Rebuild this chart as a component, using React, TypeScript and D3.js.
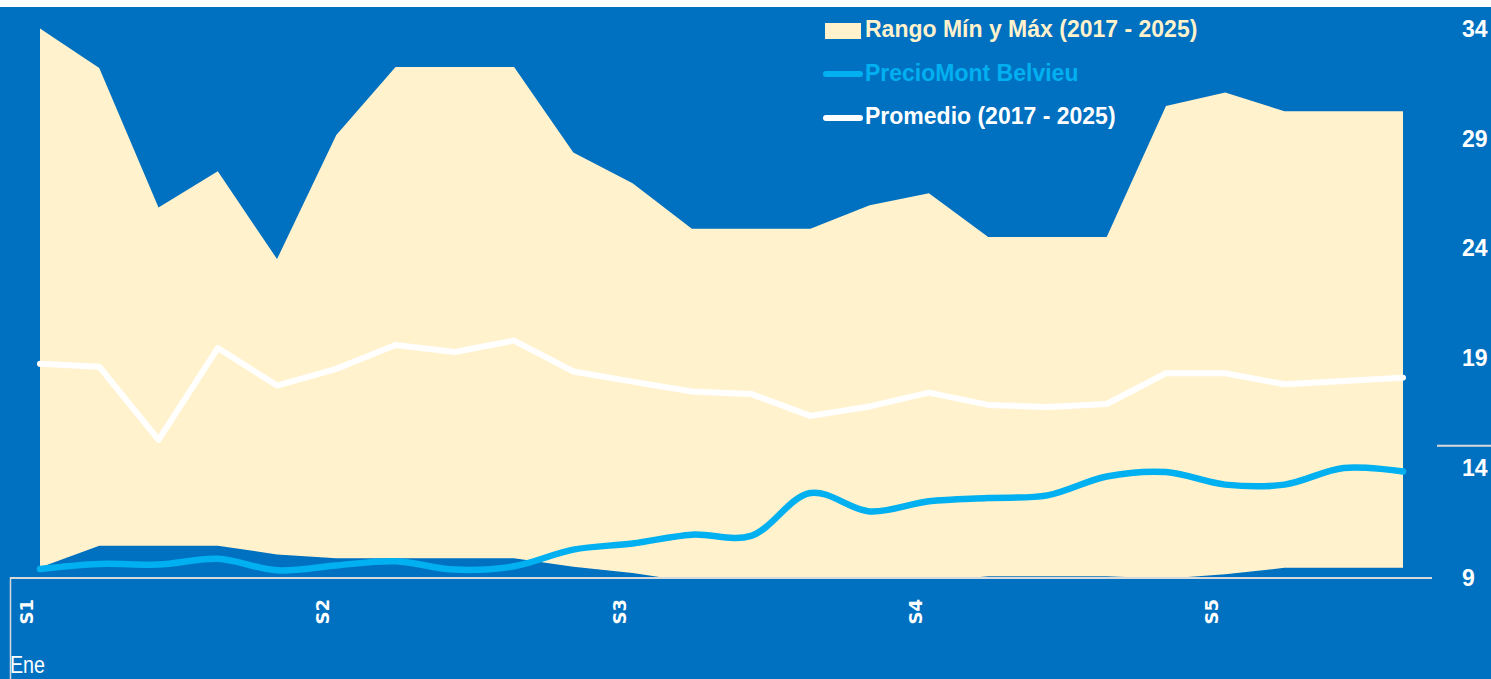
import React from "react";
import * as d3 from "d3";

// ---- data ----
const categories = ["1","2","3","4","5","6","7","8","9","10","11","12","13","14","15","16","17","18","19","20","21","22","23","24"];
const weekTickLabels = ["S1", "S2", "S3", "S4", "S5"];
const weekTickCategories = ["1", "6", "11", "16", "21"];
const monthLabel = "Ene";
const maxVals = [34.0, 32.2, 25.85, 27.5, 23.5, 29.15, 32.25, 32.25, 32.25, 28.35, 26.95, 24.88, 24.88, 24.88, 25.95, 26.5, 24.5, 24.5, 24.5, 30.47, 31.08, 30.23, 30.23, 30.23];
const minVals = [9.45, 10.45, 10.45, 10.45, 10.05, 9.88, 9.88, 9.88, 9.88, 9.49, 9.21, 8.8, 8.8, 8.8, 8.8, 8.8, 9.06, 9.06, 9.06, 8.95, 9.15, 9.44, 9.44, 9.44];
const avgVals = [18.73, 18.6, 15.27, 19.45, 17.74, 18.5, 19.59, 19.27, 19.79, 18.38, 17.92, 17.47, 17.36, 16.36, 16.79, 17.42, 16.86, 16.76, 16.9, 18.3, 18.3, 17.8, 17.95, 18.1];
const priceVals = [9.39, 9.62, 9.59, 9.85, 9.33, 9.55, 9.74, 9.36, 9.51, 10.27, 10.55, 10.95, 10.9, 12.85, 12.01, 12.47, 12.62, 12.74, 13.6, 13.8, 13.23, 13.23, 13.99, 13.83];
const yTicks = [9, 14, 19, 24, 29, 34];
const refLineValue = 15;
const legendItems = ["Rango Mín y Máx (2017 - 2025)", "PrecioMont Belvieu", "Promedio (2017 - 2025)"];

const W = 1491;
const H = 679;
const BG = "#0070C0";
const CREAM = "#FFF2CC";
const LIGHTBLUE = "#00B0F0";
const AXIS = "#D9D9D9";
const BOLD = "'Liberation Sans', Arial, sans-serif";

export default function App() {
  const x = d3.scalePoint<string>().domain(categories).range([40, 1403]);
  const y = d3.scaleLinear().domain([9, 34]).range([577.5, 28.5]);

  const rows = categories.map((c, i) => ({ c, mn: minVals[i], mx: maxVals[i], avg: avgVals[i], p: priceVals[i] }));

  const area = d3
    .area<any>()
    .x((d) => x(d.c)!)
    .y0((d) => y(d.mn))
    .y1((d) => y(d.mx));
  const avgLine = d3.line<any>().x((d) => x(d.c)!).y((d) => y(d.avg));
  const priceLine = d3
    .line<any>()
    .x((d) => x(d.c)!)
    .y((d) => y(d.p))
    .curve(d3.curveCatmullRom.alpha(0.5));

  const axisY = y(9);

  return (
    <div style={{ position: "fixed", left: 0, top: 0, width: W, height: H }}>
      <svg width={W} height={H} style={{ display: "block" }}>
        <defs>
          <clipPath id="plotClip">
            <rect x={10} y={7} width={1422} height={axisY - 7} />
          </clipPath>
        </defs>
        <rect x={0} y={0} width={W} height={H} fill="#ffffff" />
        <rect x={0} y={7} width={W} height={H - 7} fill={BG} />

        <g clipPath="url(#plotClip)">
          <path d={area(rows)!} fill={CREAM} />
        </g>
        <path d={avgLine(rows)!} fill="none" stroke="#ffffff" strokeWidth={6} strokeLinejoin="round" strokeLinecap="round" />
        <path d={priceLine(rows)!} fill="none" stroke={LIGHTBLUE} strokeWidth={6.5} strokeLinejoin="round" strokeLinecap="round" />

        {/* x axis */}
        <line x1={10} x2={1432} y1={axisY + 0.5} y2={axisY + 0.5} stroke={AXIS} strokeWidth={2} />
        <line x1={10.5} x2={10.5} y1={axisY} y2={H} stroke={AXIS} strokeWidth={1.5} />
        {weekTickLabels.map((t, i) => {
          const px = x(weekTickCategories[i])! - 7;
          return (
            <text
              key={t}
              transform={`translate(${px},599) rotate(-90)`}
              textAnchor="end"
              fill="#ffffff"
              fontFamily="'DejaVu Sans', sans-serif"
              fontWeight="bold"
              fontSize={18}
            >
              {t}
            </text>
          );
        })}
        <text
          x={10}
          y={673}
          fill="#ffffff"
          fontFamily={BOLD}
          fontSize={24}
          textLength={35}
          lengthAdjust="spacingAndGlyphs"
        >
          {monthLabel}
        </text>

        {/* right y axis labels */}
        {yTicks.map((t) => (
          <text key={t} x={1462} y={y(t)} dy="0.36em" fill="#ffffff" fontFamily={BOLD} fontWeight="bold" fontSize={23}>
            {t}
          </text>
        ))}
        <line x1={1437} x2={W} y1={y(refLineValue)} y2={y(refLineValue)} stroke={AXIS} strokeWidth={2} />

        {/* legend */}
        <g fontFamily={BOLD} fontWeight="bold" fontSize={23}>
          <rect x={825} y={23} width={36} height={16} fill={CREAM} />
          <text x={865} y={37} fill={CREAM}>{legendItems[0]}</text>
          <line x1={826} x2={860} y1={74} y2={74} stroke={LIGHTBLUE} strokeWidth={6} strokeLinecap="round" />
          <text x={865} y={80.5} fill={LIGHTBLUE}>{legendItems[1]}</text>
          <line x1={826} x2={860} y1={118} y2={118} stroke="#ffffff" strokeWidth={6} strokeLinecap="round" />
          <text x={865} y={124} fill="#ffffff">{legendItems[2]}</text>
        </g>
      </svg>
    </div>
  );
}
